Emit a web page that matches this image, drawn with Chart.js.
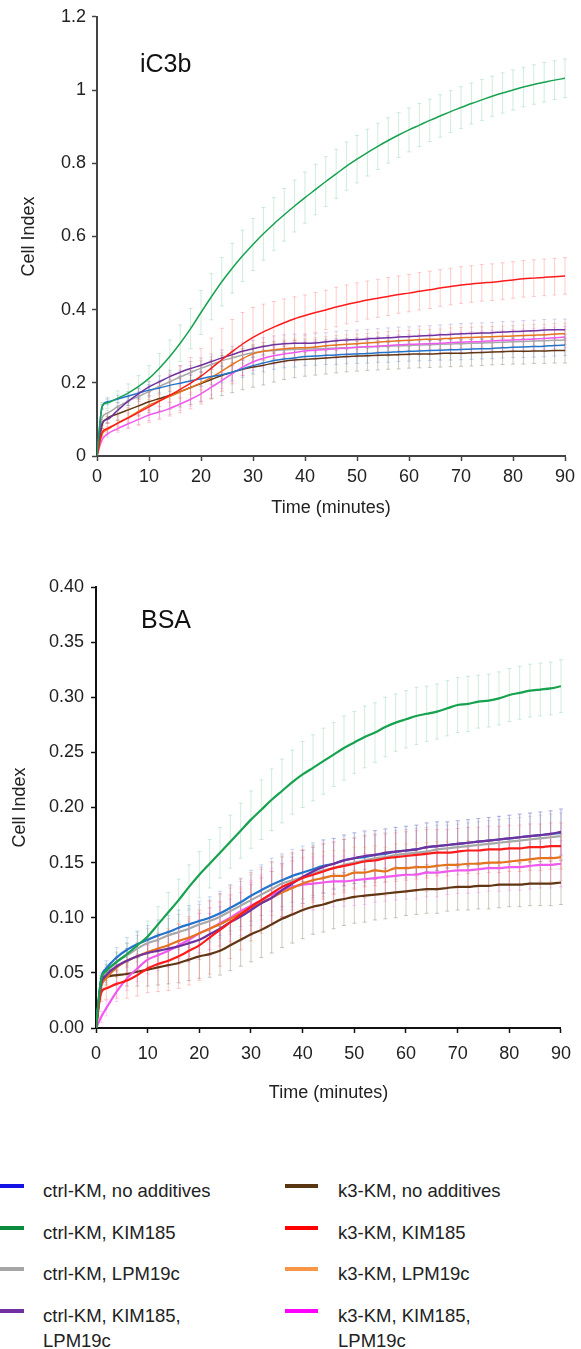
<!DOCTYPE html>
<html>
<head>
<meta charset="utf-8">
<title>Cell Index on iC3b and BSA</title>
<script src="https://cdn.jsdelivr.net/npm/chart.js@4.4.1/dist/chart.umd.min.js"></script>
<style>
  html, body { margin: 0; padding: 0; background: #fff; }
  body { width: 581px; height: 1349px; position: relative; overflow: hidden; font-family: "Liberation Sans", Arial, sans-serif; color: #222; }
  canvas { position: absolute; left: 0; }
  #topChart { top: 0; }
  #bottomChart { top: 560px; }
  .lg-swatch { position: absolute; height: 4px; width: 33px; }
  .lg-text { position: absolute; width: 190px; font-size: 18.5px; line-height: 25px; }
</style>
</head>
<body>
<canvas id="topChart" width="581" height="530"></canvas>
<canvas id="bottomChart" width="581" height="550"></canvas>
<div id="legend"></div>
<script>
// time points (minutes)
const times = [0,1,2,4,6,8,10,12,14,16,18,20,22,24,26,28,30,32,34,36,38,40,42,44,46,48,50,52,54,56,58,60,62,64,66,68,70,72,74,76,78,80,82,84,86,88,90];

const seriesNames = ['ctrl-KM, no additives', 'ctrl-KM, KIM185', 'ctrl-KM, LPM19c', 'ctrl-KM, KIM185, LPM19c',
                     'k3-KM, no additives', 'k3-KM, KIM185', 'k3-KM, LPM19c', 'k3-KM, KIM185, LPM19c'];

// iC3b panel, mean cell index
const ic3bCtrlNone = [0,0.135,0.148,0.156,0.164,0.172,0.18,0.186,0.193,0.199,0.205,0.211,0.217,0.222,0.229,0.238,0.247,0.254,0.261,0.265,0.268,0.272,0.273,0.275,0.276,0.278,0.279,0.28,0.282,0.283,0.285,0.286,0.287,0.288,0.289,0.29,0.291,0.292,0.293,0.294,0.296,0.297,0.298,0.299,0.3,0.302,0.303];
const ic3bCtrlKim = [0,0.136,0.145,0.158,0.172,0.19,0.212,0.24,0.272,0.308,0.348,0.392,0.435,0.476,0.513,0.547,0.578,0.607,0.634,0.659,0.683,0.706,0.728,0.75,0.771,0.792,0.811,0.829,0.846,0.862,0.877,0.891,0.904,0.917,0.929,0.941,0.952,0.963,0.973,0.983,0.992,1.0,1.008,1.015,1.021,1.027,1.032];
const ic3bCtrlLpm = [0,0.105,0.117,0.135,0.15,0.163,0.176,0.19,0.203,0.216,0.228,0.24,0.25,0.26,0.268,0.276,0.282,0.286,0.288,0.29,0.291,0.292,0.293,0.294,0.295,0.296,0.297,0.298,0.299,0.3,0.301,0.302,0.303,0.304,0.305,0.306,0.307,0.308,0.309,0.31,0.311,0.312,0.313,0.314,0.315,0.316,0.317];
const ic3bCtrlBoth = [0,0.09,0.1,0.125,0.15,0.17,0.189,0.203,0.217,0.229,0.239,0.248,0.258,0.268,0.277,0.286,0.293,0.299,0.304,0.307,0.308,0.308,0.309,0.312,0.315,0.317,0.318,0.32,0.322,0.323,0.325,0.326,0.328,0.329,0.331,0.332,0.334,0.335,0.336,0.337,0.339,0.34,0.341,0.342,0.344,0.345,0.345];
const ic3bK3None = [0,0.085,0.103,0.115,0.126,0.137,0.148,0.157,0.166,0.176,0.187,0.198,0.209,0.22,0.229,0.237,0.243,0.248,0.254,0.259,0.262,0.264,0.266,0.268,0.27,0.272,0.273,0.274,0.275,0.276,0.277,0.278,0.279,0.279,0.28,0.281,0.281,0.282,0.283,0.284,0.285,0.286,0.286,0.287,0.287,0.288,0.288];
const ic3bK3Kim = [0,0.065,0.075,0.09,0.104,0.119,0.134,0.15,0.166,0.182,0.199,0.218,0.24,0.263,0.285,0.306,0.324,0.339,0.352,0.364,0.375,0.384,0.392,0.399,0.407,0.414,0.42,0.426,0.431,0.436,0.441,0.445,0.45,0.454,0.459,0.463,0.467,0.47,0.473,0.475,0.478,0.481,0.484,0.486,0.488,0.49,0.492];
const ic3bK3Lpm = [0,0.06,0.072,0.09,0.105,0.122,0.139,0.151,0.163,0.175,0.187,0.2,0.215,0.232,0.25,0.266,0.279,0.286,0.29,0.293,0.295,0.296,0.298,0.301,0.303,0.305,0.307,0.309,0.311,0.313,0.315,0.316,0.318,0.319,0.32,0.322,0.323,0.324,0.325,0.326,0.327,0.328,0.329,0.33,0.331,0.333,0.334];
const ic3bK3Both = [0,0.045,0.06,0.075,0.088,0.1,0.112,0.12,0.13,0.142,0.155,0.17,0.188,0.206,0.225,0.243,0.257,0.267,0.274,0.279,0.283,0.287,0.289,0.291,0.293,0.295,0.297,0.299,0.3,0.302,0.304,0.305,0.306,0.307,0.308,0.31,0.311,0.312,0.313,0.315,0.316,0.317,0.318,0.32,0.321,0.323,0.325];

// iC3b panel, standard deviations
const ic3bSdGreen = [0,0.01,0.015,0.02,0.025,0.03,0.035,0.04,0.045,0.05,0.055,0.06,0.063,0.066,0.068,0.07,0.071,0.072,0.072,0.072,0.071,0.07,0.069,0.068,0.067,0.066,0.065,0.064,0.063,0.062,0.061,0.06,0.059,0.058,0.058,0.057,0.057,0.056,0.056,0.055,0.055,0.055,0.054,0.054,0.054,0.053,0.053];
const ic3bSdRed = [0,0.01,0.015,0.02,0.028,0.035,0.042,0.05,0.057,0.064,0.07,0.076,0.082,0.086,0.088,0.086,0.082,0.076,0.07,0.065,0.06,0.056,0.055,0.054,0.054,0.053,0.053,0.052,0.052,0.052,0.051,0.051,0.051,0.051,0.05,0.05,0.05,0.05,0.05,0.05,0.05,0.05,0.05,0.05,0.05,0.05,0.05];
const ic3bSdBrown = [0,0.01,0.014,0.018,0.022,0.026,0.03,0.034,0.038,0.042,0.046,0.05,0.053,0.055,0.056,0.056,0.055,0.054,0.052,0.05,0.048,0.046,0.045,0.044,0.043,0.042,0.041,0.04,0.04,0.039,0.039,0.038,0.038,0.037,0.037,0.037,0.036,0.036,0.036,0.035,0.035,0.035,0.035,0.034,0.034,0.034,0.034];
const ic3bSdOther = [0,0.006,0.008,0.01,0.012,0.014,0.015,0.016,0.017,0.018,0.019,0.02,0.021,0.022,0.022,0.023,0.023,0.024,0.024,0.024,0.025,0.025,0.025,0.025,0.026,0.026,0.026,0.026,0.026,0.027,0.027,0.027,0.027,0.027,0.027,0.028,0.028,0.028,0.028,0.028,0.028,0.028,0.029,0.029,0.029,0.029,0.029];

// BSA panel, mean cell index
const bsaCtrlNone = [0,0.045,0.054,0.064,0.071,0.076,0.08,0.084,0.087,0.091,0.094,0.097,0.1,0.104,0.109,0.114,0.12,0.125,0.13,0.134,0.138,0.141,0.144,0.147,0.149,0.152,0.154,0.155,0.157,0.158,0.16,0.161,0.162,0.164,0.165,0.166,0.167,0.168,0.169,0.17,0.171,0.172,0.173,0.174,0.175,0.176,0.177];
const bsaCtrlKim = [0,0.044,0.052,0.06,0.067,0.075,0.083,0.094,0.105,0.116,0.128,0.139,0.149,0.159,0.169,0.179,0.189,0.198,0.207,0.215,0.223,0.23,0.236,0.242,0.248,0.254,0.259,0.264,0.268,0.273,0.277,0.28,0.283,0.285,0.287,0.29,0.293,0.294,0.296,0.297,0.299,0.302,0.304,0.306,0.307,0.308,0.31];
const bsaCtrlLpm = [0,0.042,0.05,0.06,0.066,0.072,0.077,0.08,0.084,0.087,0.09,0.094,0.097,0.101,0.106,0.111,0.116,0.121,0.126,0.131,0.134,0.137,0.14,0.143,0.145,0.148,0.15,0.152,0.154,0.155,0.157,0.158,0.159,0.16,0.162,0.163,0.164,0.165,0.166,0.167,0.168,0.169,0.17,0.171,0.172,0.173,0.174];
const bsaCtrlBoth = [0,0.04,0.048,0.056,0.061,0.065,0.068,0.07,0.072,0.074,0.077,0.08,0.085,0.09,0.096,0.101,0.107,0.113,0.118,0.125,0.131,0.137,0.142,0.146,0.149,0.152,0.154,0.156,0.157,0.159,0.16,0.161,0.162,0.164,0.165,0.166,0.167,0.168,0.169,0.17,0.171,0.172,0.173,0.174,0.175,0.176,0.178];
const bsaK3None = [0,0.04,0.046,0.048,0.049,0.051,0.053,0.055,0.057,0.059,0.062,0.065,0.067,0.07,0.075,0.08,0.085,0.089,0.094,0.099,0.103,0.107,0.11,0.112,0.115,0.117,0.119,0.12,0.121,0.122,0.123,0.124,0.125,0.126,0.126,0.127,0.128,0.128,0.129,0.129,0.13,0.13,0.13,0.131,0.131,0.131,0.132];
const bsaK3Kim = [0,0.032,0.036,0.04,0.043,0.048,0.054,0.058,0.061,0.065,0.07,0.075,0.082,0.089,0.096,0.103,0.11,0.116,0.122,0.128,0.132,0.136,0.139,0.142,0.145,0.147,0.149,0.151,0.152,0.154,0.155,0.156,0.157,0.158,0.159,0.159,0.16,0.161,0.161,0.162,0.162,0.163,0.163,0.164,0.164,0.165,0.165];
const bsaK3Lpm = [0,0.037,0.045,0.055,0.061,0.065,0.069,0.072,0.075,0.079,0.082,0.086,0.09,0.094,0.099,0.104,0.109,0.114,0.118,0.123,0.127,0.131,0.134,0.136,0.138,0.138,0.141,0.141,0.143,0.142,0.145,0.145,0.146,0.146,0.147,0.148,0.148,0.149,0.149,0.15,0.15,0.151,0.152,0.153,0.154,0.154,0.155];
const bsaK3Both = [0,0.01,0.018,0.033,0.045,0.054,0.062,0.066,0.07,0.075,0.08,0.086,0.09,0.095,0.1,0.106,0.111,0.116,0.121,0.125,0.128,0.13,0.131,0.132,0.133,0.133,0.134,0.135,0.136,0.137,0.138,0.139,0.139,0.141,0.141,0.142,0.143,0.143,0.144,0.145,0.145,0.146,0.146,0.147,0.148,0.148,0.149];

// BSA panel, standard deviations
const bsaSdGreen = [0,0.004,0.006,0.008,0.01,0.012,0.014,0.016,0.018,0.019,0.02,0.021,0.022,0.023,0.024,0.025,0.026,0.027,0.028,0.029,0.029,0.03,0.03,0.03,0.029,0.029,0.028,0.028,0.027,0.027,0.026,0.026,0.026,0.025,0.025,0.025,0.025,0.025,0.024,0.024,0.024,0.024,0.024,0.024,0.024,0.024,0.024];
const bsaSdRed = [0,0.008,0.01,0.013,0.016,0.019,0.022,0.025,0.027,0.029,0.031,0.032,0.033,0.033,0.033,0.032,0.031,0.03,0.029,0.028,0.027,0.026,0.025,0.025,0.024,0.024,0.023,0.023,0.023,0.022,0.022,0.022,0.022,0.022,0.021,0.021,0.021,0.021,0.021,0.021,0.021,0.021,0.021,0.021,0.021,0.021,0.021];
const bsaSdBrown = [0,0.005,0.007,0.009,0.011,0.013,0.015,0.016,0.017,0.018,0.019,0.02,0.021,0.022,0.023,0.024,0.025,0.025,0.026,0.026,0.026,0.026,0.025,0.025,0.025,0.024,0.024,0.024,0.023,0.023,0.023,0.022,0.022,0.022,0.022,0.021,0.021,0.021,0.021,0.021,0.021,0.02,0.02,0.02,0.02,0.02,0.02];
const bsaSdOther = [0,0.005,0.007,0.009,0.011,0.012,0.013,0.014,0.015,0.016,0.017,0.018,0.019,0.02,0.021,0.022,0.023,0.023,0.024,0.024,0.024,0.024,0.024,0.024,0.023,0.023,0.023,0.023,0.022,0.022,0.022,0.022,0.022,0.022,0.022,0.021,0.021,0.021,0.021,0.021,0.021,0.021,0.021,0.021,0.021,0.021,0.021];

const lineColors = ['#2274cc', '#17a24f', '#a8a8a8', '#7030a0', '#623513', '#ff1a1a', '#e5731c', '#f058f0'];
const errColors = ['rgba(70,130,220,0.3)', 'rgba(40,170,100,0.22)', 'rgba(150,150,150,0.3)', 'rgba(120,70,180,0.25)',
                   'rgba(110,100,70,0.35)', 'rgba(255,70,70,0.28)', 'rgba(240,140,70,0.3)', 'rgba(240,100,240,0.28)'];
const legendColors = ['#1414e6', '#0a8a3c', '#a6a6a6', '#7030a0', '#5a3511', '#ff0000', '#f79646', '#ff00ff'];
// smaller number = drawn on top
const drawOrder = [3, 0, 6, 2, 7, 1, 4, 5];

const FONT = '"Liberation Sans", Arial, sans-serif';

// vertical error bars with caps, drawn under the lines
const errorBars = {
  id: 'errorBars',
  beforeDatasetsDraw(chart) {
    const { ctx, scales: { x, y } } = chart;
    ctx.save();
    ctx.lineWidth = 1;
    chart.data.datasets.forEach((ds, i) => {
      if (!chart.isDatasetVisible(i) || !ds.sd) return;
      ctx.strokeStyle = ds.errColor;
      ds.data.forEach((p, j) => {
        const s = ds.sd[j];
        if (!s) return;
        const px = x.getPixelForValue(p.x);
        const top = y.getPixelForValue(p.y + s);
        const bot = y.getPixelForValue(p.y - s);
        ctx.beginPath();
        ctx.moveTo(px, top); ctx.lineTo(px, bot);
        ctx.moveTo(px - 2, top); ctx.lineTo(px + 2, top);
        ctx.moveTo(px - 2, bot); ctx.lineTo(px + 2, bot);
        ctx.stroke();
      });
    });
    ctx.restore();
  }
};

const panelLabel = {
  id: 'panelLabel',
  afterDraw(chart, args, opts) {
    const { ctx, chartArea } = chart;
    ctx.save();
    ctx.font = '25px ' + FONT;
    ctx.fillStyle = '#111';
    ctx.textBaseline = 'alphabetic';
    ctx.fillText(opts.text, chartArea.left + opts.dx, chartArea.top + opts.dy);
    ctx.restore();
  }
};

function makeDatasets(means, sds, width) {
  return means.map((vals, i) => ({
    label: seriesNames[i],
    data: times.map((t, j) => ({ x: t, y: vals[j] })),
    sd: sds[i],
    errColor: errColors[i],
    borderColor: lineColors[i],
    backgroundColor: lineColors[i],
    borderWidth: width,
    pointRadius: 0,
    cubicInterpolationMode: 'monotone',
    order: drawOrder[i]
  }));
}

function xScale(h, tickPad, titlePad, axisColor) {
  return {
    type: 'linear', min: 0, max: 90,
    ticks: { stepSize: 10, padding: tickPad, color: '#222', maxRotation: 0, font: { family: FONT, size: 18 } },
    grid: { drawOnChartArea: false, tickLength: 5, tickColor: axisColor, tickWidth: 1.5 },
    border: { color: axisColor, width: 2 },
    title: { display: true, text: 'Time (minutes)', color: '#222', font: { family: FONT, size: 18, lineHeight: 1.2 }, padding: { top: 0, bottom: titlePad } },
    afterFit: s => { s.height = h; }
  };
}

function yScale(w, max, step, fmt, tickPad, titlePad, axisColor) {
  return {
    min: 0, max: max,
    ticks: { stepSize: step, padding: tickPad, color: '#222', callback: fmt, font: { family: FONT, size: 18 } },
    grid: { drawOnChartArea: false, tickLength: 5, tickColor: axisColor, tickWidth: 1.5 },
    border: { color: axisColor, width: 2 },
    title: { display: true, text: 'Cell Index', color: '#222', font: { family: FONT, size: 18, lineHeight: 1.2 }, padding: { top: titlePad, bottom: 0 } },
    afterFit: s => { s.width = w; }
  };
}

const baseOptions = {
  responsive: false,
  animation: false,
  devicePixelRatio: 1,
  events: []
};

new Chart(document.getElementById('topChart'), {
  type: 'line',
  data: {
    datasets: makeDatasets(
      [ic3bCtrlNone, ic3bCtrlKim, ic3bCtrlLpm, ic3bCtrlBoth, ic3bK3None, ic3bK3Kim, ic3bK3Lpm, ic3bK3Both],
      [ic3bSdOther, ic3bSdGreen, ic3bSdOther, ic3bSdOther, ic3bSdBrown, ic3bSdRed, ic3bSdOther, ic3bSdOther],
      1.5)
  },
  options: {
    ...baseOptions,
    layout: { padding: { top: 15, right: 16, bottom: 0, left: 0 } },
    plugins: { legend: { display: false }, tooltip: { enabled: false }, panelLabel: { text: 'iC3b', dx: 43, dy: 55 } },
    scales: {
      x: xScale(74, 5, 11, '#444'),
      y: yScale(97, 1.2, 0.2, v => String(Math.round(v * 10) / 10), 6, 18, '#444')
    }
  },
  plugins: [errorBars, panelLabel]
});

new Chart(document.getElementById('bottomChart'), {
  type: 'line',
  data: {
    datasets: makeDatasets(
      [bsaCtrlNone, bsaCtrlKim, bsaCtrlLpm, bsaCtrlBoth, bsaK3None, bsaK3Kim, bsaK3Lpm, bsaK3Both],
      [bsaSdOther, bsaSdGreen, bsaSdOther, bsaSdOther, bsaSdBrown, bsaSdRed, bsaSdOther, bsaSdOther],
      2.2)
  },
  options: {
    ...baseOptions,
    layout: { padding: { top: 27, right: 18, bottom: 0, left: 0 } },
    plugins: { legend: { display: false }, tooltip: { enabled: false }, panelLabel: { text: 'BSA', dx: 45, dy: 41 } },
    scales: {
      x: xScale(82, 10, 6, '#111'),
      y: yScale(96, 0.4, 0.05, v => v.toFixed(2), 7, 9, '#111')
    }
  },
  plugins: [errorBars, panelLabel]
});

// legend, two columns of four
const legendBox = document.getElementById('legend');
seriesNames.forEach((name, i) => {
  const col = Math.floor(i / 4), row = i % 4;
  const y = 1184 + row * 41.5;
  const sw = document.createElement('div');
  sw.className = 'lg-swatch';
  sw.style.left = (col ? 285 : -9) + 'px';
  sw.style.top = y + 'px';
  sw.style.background = legendColors[i];
  const tx = document.createElement('div');
  tx.className = 'lg-text';
  tx.style.left = (col ? 338 : 43) + 'px';
  tx.style.top = (y - 6) + 'px';
  tx.textContent = name;
  legendBox.append(sw, tx);
});
</script>
</body>
</html>
